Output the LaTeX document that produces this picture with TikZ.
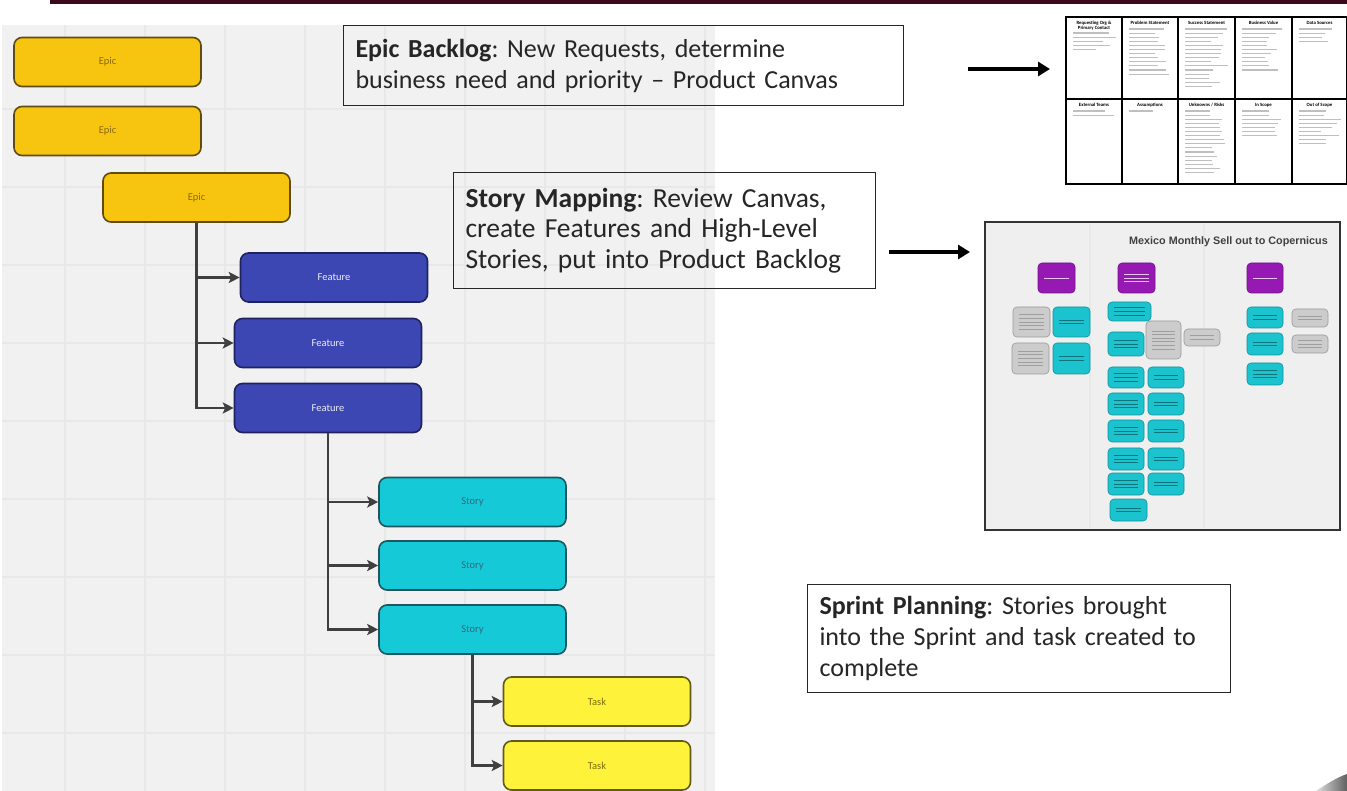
\documentclass[tikz,border=0pt]{standalone}
\usepackage{fontspec}
\setmainfont{Carlito}
\newfontfamily\arialfont{Liberation Sans}
\usetikzlibrary{arrows.meta}
\frenchspacing

\definecolor{topbar}{HTML}{3B0A1C}
\definecolor{board}{HTML}{F1F1F1}
\definecolor{gridline}{HTML}{E8E8E8}
\definecolor{epicfill}{HTML}{F7C40F}
\definecolor{epicdraw}{HTML}{5E4C14}
\definecolor{epictext}{HTML}{8A6A10}
\definecolor{featfill}{HTML}{3C47B3}
\definecolor{featdraw}{HTML}{1E2360}
\definecolor{storyfill}{HTML}{16C9D6}
\definecolor{storydraw}{HTML}{1E5560}
\definecolor{storytext}{HTML}{2F6A84}
\definecolor{taskfill}{HTML}{FFF23A}
\definecolor{taskdraw}{HTML}{5E5A20}
\definecolor{tasktext}{HTML}{7A6E10}
\definecolor{connector}{HTML}{3F3F3F}
\definecolor{miropurple}{HTML}{9619B3}
\definecolor{mirocyan}{HTML}{1AC3CD}
\definecolor{mirogrey}{HTML}{CCCCCC}
\definecolor{miroboard}{HTML}{EFEFEF}

% small board card with a few thin bars standing for its unreadable text
\newcommand\boardcard[7]{%
  \filldraw[fill=#1, draw=#1!75!black, line width=0.6pt, rounded corners=4pt] (#2,#3) rectangle (#4,#5);
  \pgfmathsetmacro\cardcy{(#3+#5)/2}
  \pgfmathsetmacro\cardcx{(#2+#4)/2}
  \pgfmathsetmacro\cardhw{((#4)-(#2))/2-6}
  \foreach \k in {1,...,#6}{%
    \pgfmathsetmacro\cardyy{\cardcy+(\k-(#6+1)/2)*3.6}
    \fill[#7] ({\cardcx-\cardhw},{\cardyy-0.45}) rectangle ({\cardcx+\cardhw},{\cardyy+0.45});
  }%
}

\tikzset{
  card/.style={draw, rounded corners=8pt, line width=1.6pt, minimum width=187pt,
    minimum height=49pt, inner sep=0pt, font=\fontsize{10.5}{12}\selectfont},
  epic/.style={card, fill=epicfill, draw=epicdraw, text=epictext},
  feature/.style={card, fill=featfill, draw=featdraw, text=white!90!featfill},
  story/.style={card, fill=storyfill, draw=storydraw, text=storytext},
  task/.style={card, fill=taskfill, draw=taskdraw, text=tasktext},
  conn/.style={draw=connector, line width=2.2pt, -{Stealth[length=11pt,width=11pt,inset=2.5pt]}},
  note/.style={draw=black!85, line width=1pt, align=left, anchor=north west,
    font=\fontsize{26}{31}\selectfont, inner xsep=11pt, text=black!85},
  bigarrow/.style={line width=4pt, -{Triangle[length=12pt,width=14pt]}},
  canvasline/.style={line width=1.1pt, draw=black},
  canvashead/.style={font=\fontsize{4.8}{5.2}\selectfont\bfseries, align=center, inner sep=0pt, anchor=north},
}

\begin{document}
\begin{tikzpicture}[x=1pt,y=-1pt]
\useasboundingbox (0,0) rectangle (1347,791);
\fill[white] (0,0) rectangle (1347,791);

% title bar
\fill[topbar] (50,0) rectangle (1347,4);

% whiteboard with faint grid
\fill[board] (2,25) rectangle (715,791);
\begin{scope}
  \clip (2,25) rectangle (715,791);
  \foreach \gx in {65,145,...,705} \draw[gridline, line width=1.5pt] (\gx,25) -- (\gx,791);
  \foreach \gy in {109,187,...,733} \draw[gridline, line width=1.5pt] (2,\gy) -- (715,\gy);
\end{scope}

% hierarchy cards
\node[epic] (e1) at (107.5,62) {Epic};
\node[epic] (e2) at (107.5,131) {Epic};
\node[epic] (e3) at (196.5,197.5) {Epic};
\node[feature] (f1) at (334,277.5) {Feature};
\node[feature] (f2) at (328,343) {Feature};
\node[feature] (f3) at (328,408) {Feature};
\node[story] (s1) at (472.5,502) {Story};
\node[story] (s2) at (472.5,565.5) {Story};
\node[story] (s3) at (472.5,629.5) {Story};
\node[task] (t1) at (597,701.5) {Task};
\node[task] (t2) at (597,765.5) {Task};

% hierarchy connectors
\draw[conn] (e3.south) |- (f1.west);
\draw[conn] (e3.south) |- (f2.west);
\draw[conn] (e3.south) |- (f3.west);
\draw[conn] (f3.south) |- (s1.west);
\draw[conn] (f3.south) |- (s2.west);
\draw[conn] (f3.south) |- (s3.west);
\draw[conn] (s3.south) |- (t1.west);
\draw[conn] (s3.south) |- (t2.west);

% explanation boxes
\node[note, minimum width=560pt, minimum height=80pt, text width=536pt] (backlog) at (343,25)
  {\textbf{Epic Backlog}: New Requests, determine\\business need and priority – Product Canvas};
\node[note, minimum width=422pt, minimum height=116pt, text width=398pt,
      font=\fontsize{27.5}{30.5}\selectfont] (mapping) at (453,172)
  {\textbf{Story Mapping}: Review Canvas,\\create Features and High-Level\\Stories, put into Product Backlog};
\node[note, minimum width=423pt, minimum height=108pt, text width=399pt] (sprint) at (807,584)
  {\textbf{Sprint Planning}: Stories brought\\into the Sprint and task created to\\complete};

% arrows towards the illustrations
\coordinate (a1s) at (968,69);
\coordinate (a1e) at (1050,69);
\coordinate (a2s) at (889,252);
\coordinate (a2e) at (970,252);
\draw[bigarrow] (a1s) -- (a1e);
\draw[bigarrow] (a2s) -- (a2e);

% product canvas
\fill[white] (1066,17) rectangle (1347,184);
\draw[canvasline] (1066,17) rectangle (1347,184);
\draw[canvasline] (1066,99) -- (1347,99);
\foreach \cxx in {1122,1178,1235,1292} \draw[canvasline] (\cxx,17) -- (\cxx,184);
\node[canvashead] at (1094,21) {Requesting Org \&\\Primary Contact};
\node[canvashead] at (1150,21) {Problem Statement};
\node[canvashead] at (1206.5,21) {Success Statement};
\node[canvashead] at (1263.5,21) {Business Value};
\node[canvashead] at (1319.5,21) {Data Sources};
\node[canvashead] at (1094,103) {External Teams};
\node[canvashead] at (1150,103) {Assumptions};
\node[canvashead] at (1206.5,103) {Unknowns / Risks};
\node[canvashead] at (1263.5,103) {In Scope};
\node[canvashead] at (1319.5,103) {Out of Scope};
\pgfmathsetseed{11}
\foreach \bx/\by/\bn in {1068/33/5, 1124/29/12, 1180/29/15, 1237/29/11, 1294/29/4,
                         1068/111/2, 1124/111/1, 1180/111/16, 1237/111/7, 1294/111/9}{
  \foreach \k in {1,...,\bn}{
    \pgfmathsetmacro\barlen{22+22*rnd}
    \pgfmathsetmacro\bary{\by+(\k-1)*4.1}
    \fill[gray!50] ({\bx+5},{\bary-0.55}) rectangle ({\bx+5+\barlen},{\bary+0.55});
  }
}

% story map board
\fill[miroboard] (985,222) rectangle (1340,530);
\draw[gridline, line width=1.5pt] (1090,224) -- (1090,528);
\draw[gridline, line width=1.5pt] (1204,224) -- (1204,528);
\draw[black!80, line width=1.5pt] (985,222) rectangle (1340,530);
\node[font=\arialfont\bfseries\fontsize{10.8}{12}\selectfont, text=black!75, anchor=east, inner sep=0pt]
  (maptitle) at (1328,242) {Mexico Monthly Sell out to Copernicus};

\boardcard{miropurple}{1038}{263}{1075}{293}{1}{white!75!miropurple}
\boardcard{miropurple}{1118}{263}{1155}{293}{3}{white!75!miropurple}
\boardcard{miropurple}{1247}{263}{1283}{293}{1}{white!75!miropurple}

\boardcard{mirogrey}{1013}{307}{1050}{337}{5}{gray!75}
\boardcard{mirocyan}{1053}{307}{1090}{337}{2}{mirocyan!60!black}
\boardcard{mirogrey}{1012}{343}{1049}{374}{5}{gray!75}
\boardcard{mirocyan}{1053}{343}{1090}{374}{2}{mirocyan!60!black}

\boardcard{mirocyan}{1108}{302}{1151}{321}{3}{mirocyan!60!black}
\boardcard{mirocyan}{1108}{332}{1144}{356}{3}{mirocyan!60!black}
\boardcard{mirogrey}{1146}{321}{1181}{359}{6}{gray!75}
\boardcard{mirogrey}{1184}{329}{1220}{346}{2}{gray!75}
\foreach \ry/\rz in {367/388, 393/415, 420/442, 448/470, 473/495}{
  \boardcard{mirocyan}{1108}{\ry}{1144}{\rz}{3}{mirocyan!60!black}
  \boardcard{mirocyan}{1148}{\ry}{1184}{\rz}{2}{mirocyan!60!black}
}
\boardcard{mirocyan}{1110}{499}{1147}{521}{2}{mirocyan!60!black}

\boardcard{mirocyan}{1247}{307}{1283}{328}{2}{mirocyan!60!black}
\boardcard{mirocyan}{1247}{333}{1283}{355}{2}{mirocyan!60!black}
\boardcard{mirocyan}{1247}{363}{1283}{385}{3}{mirocyan!60!black}
\boardcard{mirogrey}{1292}{309}{1328}{327}{2}{gray!75}
\boardcard{mirogrey}{1292}{335}{1328}{353}{3}{gray!75}

% corner swoosh
\shade[left color=gray!25, right color=gray!75!black]
  (1316,791) .. controls (1328,783) and (1338,777) .. (1347,774) -- (1347,791) -- cycle;
\end{tikzpicture}
\end{document}
